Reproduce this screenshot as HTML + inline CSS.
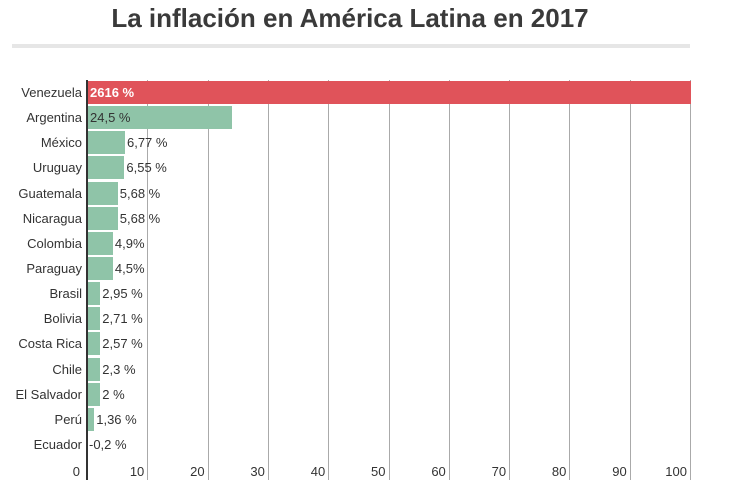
<!DOCTYPE html>
<html><head><meta charset="utf-8"><style>
body{margin:0;width:731px;height:487px;background:#fff;font-family:"Liberation Sans",sans-serif;position:relative;overflow:hidden;color:#333}
.t{position:absolute;left:0;width:700px;top:3px;text-align:center;font-size:26px;font-weight:bold;color:#3a3a3a}
.hr{position:absolute;left:12px;width:678px;top:44px;height:4px;background:#e6e6e6}
.g{position:absolute;top:80px;height:400px;width:1px;background:#aaa}
.ax{position:absolute;left:86px;top:80px;height:400px;width:2px;background:#333}
.l{position:absolute;right:649px;font-size:13px;color:#333;line-height:14px;text-align:right;white-space:nowrap}
.b{position:absolute;left:88px;height:23px}
.v{position:absolute;font-size:13px;line-height:14px;white-space:nowrap;color:#333}
.k{position:absolute;top:464px;font-size:13px;text-align:right;width:40px}
</style></head><body>
<div class="t">La inflación en América Latina en 2017</div>
<div class="hr"></div>
<div id="c"></div>
<div class="ax"></div>
<script>
var d=[["Venezuela",100,"2616 %"],["Argentina",24,"24,5 %"],["México",6.3,"6,77 %"],["Uruguay",6.2,"6,55 %"],["Guatemala",5.1,"5,68 %"],["Nicaragua",5.1,"5,68 %"],["Colombia",4.3,"4,9%"],["Paraguay",4.3,"4,5%"],["Brasil",2.2,"2,95 %"],["Bolivia",2.2,"2,71 %"],["Costa Rica",2.2,"2,57 %"],["Chile",2.2,"2,3 %"],["El Salvador",2.2,"2 %"],["Perú",1.2,"1,36 %"],["Ecuador",0,"-0,2 %"]];
var h="";
for(var i=1;i<=10;i++){var x=87+i*60.3;h+='<div class="g" style="left:'+x+'px"></div><div class="k" style="left:'+(x-43)+'px">'+(i*10)+'</div>';}
h+='<div class="k" style="left:40px">0</div>';
for(var i=0;i<d.length;i++){var y=81+i*25.14;var w=d[i][1]*6.03;
h+='<div class="l" style="top:'+(y+5)+'px">'+d[i][0]+'</div>';
if(w>0)h+='<div class="b" style="top:'+y+'px;width:'+(w-(i==0?0:1))+'px;background:'+(i==0?'#e0535a':'#8fc4a8')+'"></div>';
if(i==0)h+='<div class="v" style="left:90px;top:'+(y+5)+'px;color:#fff;font-weight:bold">'+d[i][2]+'</div>';
else if(i==1)h+='<div class="v" style="left:90px;top:'+(y+5)+'px">'+d[i][2]+'</div>';
else h+='<div class="v" style="left:'+(89+w)+'px;top:'+(y+5)+'px">'+d[i][2]+'</div>';}
document.getElementById("c").innerHTML=h;
</script>
</body></html>
